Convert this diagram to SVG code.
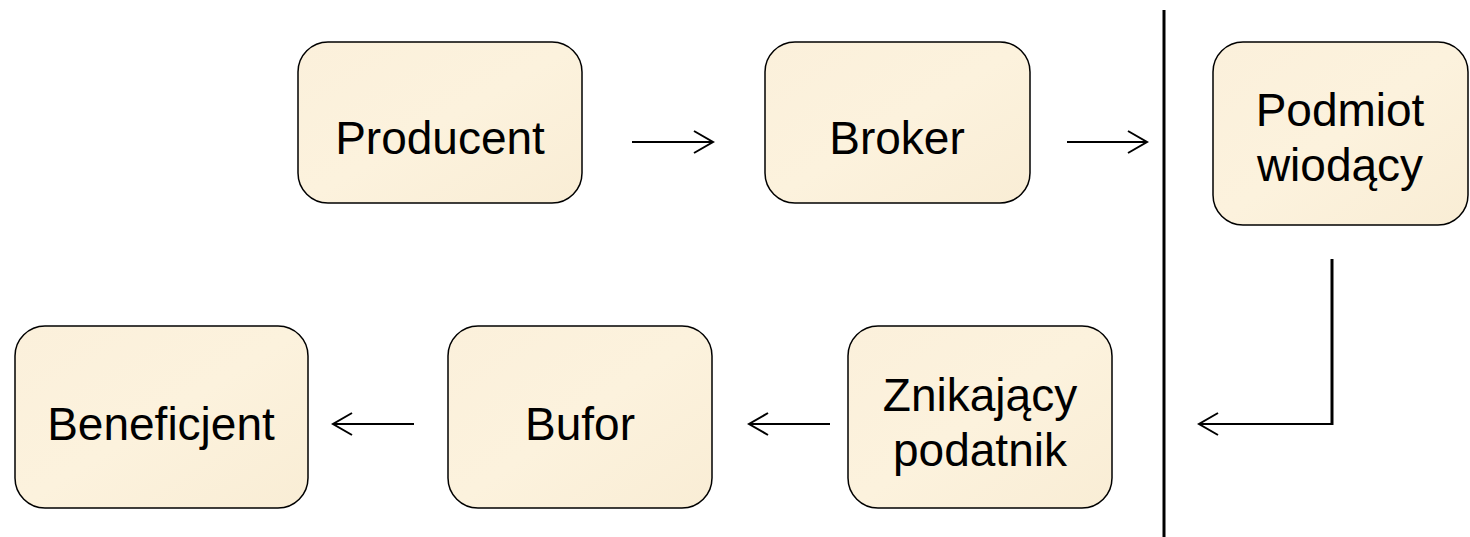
<svg xmlns="http://www.w3.org/2000/svg" width="1470" height="537" viewBox="0 0 1470 537">
<style>
.box{fill:url(#parch);stroke:#000;stroke-width:1.5}
.t{font-family:"Liberation Sans",Arial,sans-serif;font-size:46px;fill:#000;text-anchor:middle}
.c{fill:none;stroke:#000;stroke-width:2}
</style>
<defs>
<linearGradient id="parch" x1="0" y1="0" x2="1" y2="1">
<stop offset="0" stop-color="#FBF0DB"/>
<stop offset="0.5" stop-color="#FCF2DD"/>
<stop offset="1" stop-color="#F9EDD5"/>
</linearGradient>
<marker id="ah" viewBox="0 0 24 24" refX="21" refY="12" markerWidth="24" markerHeight="24" markerUnits="userSpaceOnUse" orient="auto">
<path d="M2,1 L21,12 L2,23" fill="none" stroke="#000" stroke-width="2"/>
</marker>
</defs>
<rect width="1470" height="537" fill="#fff"/>
<g id="producent"><rect class="box" x="298" y="42" width="284" height="161" rx="30"/><text class="t" x="440" y="154">Producent</text></g>
<g id="broker"><rect class="box" x="765" y="42" width="265" height="161" rx="30"/><text class="t" x="897" y="154">Broker</text></g>
<g id="podmiot"><rect class="box" x="1213" y="42" width="255" height="183" rx="30"/><text class="t" x="1340" y="126">Podmiot</text><text class="t" x="1340" y="181">wiodący</text></g>
<g id="beneficjent"><rect class="box" x="15" y="326" width="293" height="182" rx="30"/><text class="t" x="161" y="440">Beneficjent</text></g>
<g id="bufor"><rect class="box" x="448" y="326" width="264" height="182" rx="30"/><text class="t" x="580" y="440">Bufor</text></g>
<g id="znikajacy"><rect class="box" x="848" y="326" width="264" height="182" rx="30"/><text class="t" x="980" y="411">Znikający</text><text class="t" x="980" y="466">podatnik</text></g>
<g id="connectors">
<line x1="1164" y1="10" x2="1164" y2="537" stroke="#000" stroke-width="3"/>
<line class="c" x1="632" y1="142" x2="713" y2="142" marker-end="url(#ah)"/>
<line class="c" x1="1067" y1="142" x2="1147" y2="142" marker-end="url(#ah)"/>
<line x1="1332" y1="259" x2="1332" y2="425" stroke="#000" stroke-width="3"/>
<line class="c" x1="1333" y1="424" x2="1199" y2="424" marker-end="url(#ah)"/>
<line class="c" x1="830" y1="424" x2="749" y2="424" marker-end="url(#ah)"/>
<line class="c" x1="414" y1="424" x2="333" y2="424" marker-end="url(#ah)"/>
</g>
</svg>
